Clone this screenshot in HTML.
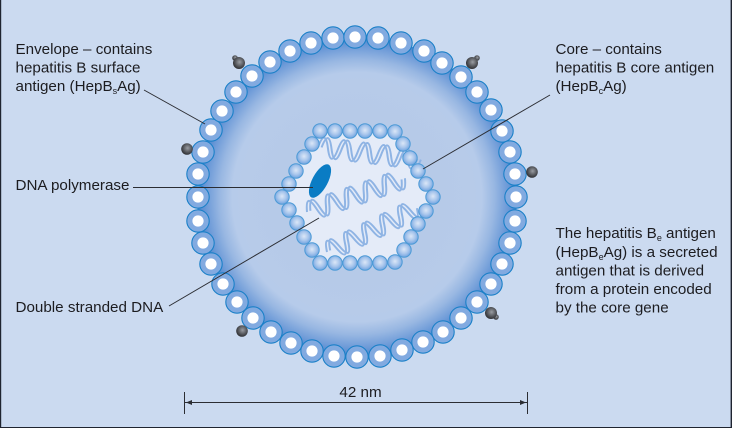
<!DOCTYPE html>
<html><head><meta charset="utf-8"><style>
html,body{margin:0;padding:0;background:#cbdaf0}
svg{display:block}
text{font-family:"Liberation Sans",sans-serif;font-size:15.2px;fill:#1c1c20}
.s{font-size:9px}
</style></head><body>
<svg width="732" height="428" viewBox="0 0 732 428" xmlns="http://www.w3.org/2000/svg">
<defs>
<radialGradient id="halo" gradientUnits="userSpaceOnUse" cx="357" cy="197" r="160">
<stop offset="0" stop-color="#b4c8e7"/><stop offset=".72" stop-color="#b7cbe9"/><stop offset=".78" stop-color="#b6cbea"/><stop offset=".86" stop-color="#98b7e2"/><stop offset=".94" stop-color="#6e9bd8"/><stop offset="1" stop-color="#4a84cc"/>
</radialGradient>
<radialGradient id="bead" cx=".5" cy=".45" r=".55">
<stop offset="0" stop-color="#dbe7f7"/><stop offset=".55" stop-color="#a9c6ec"/><stop offset="1" stop-color="#6fa3e0"/>
</radialGradient>
<radialGradient id="ball" cx=".55" cy=".42" r=".6">
<stop offset="0" stop-color="#9a9da3"/><stop offset=".6" stop-color="#55575c"/><stop offset="1" stop-color="#2c2d31"/>
</radialGradient>
<g id="o"><circle r="11.2" fill="#82aae0" stroke="#1b80c8" stroke-width="1.1"/><circle r="5.6" fill="#fff"/></g>
<circle id="b" r="7.2" fill="url(#bead)" stroke="#4c9ad6" stroke-width="1"/>
<path id="w" fill="none" stroke="#8fb4e4" stroke-width="2" d="M0 0q5 -20 10 0t10 0t10 0t10 0t10 0t10 0t10 0t10 0t10 0t10 0"/>
<g id="hx"><use href="#w"/><use href="#w" x="3.6"/></g>
</defs>

<circle cx="357" cy="197" r="160" fill="url(#halo)"/>
<polygon points="320,131 395,131 433,197 395,263 320,263 282,197" fill="#e4ebf8"/>

<use href="#hx" transform="translate(318 147) rotate(7)"/>
<use href="#hx" transform="translate(307 212) rotate(-19)"/>
<use href="#hx" transform="translate(327 252) rotate(-26)"/>

<ellipse cx="320" cy="181" rx="7.8" ry="18.5" transform="rotate(28 320 181)" fill="#0a7cc4"/>

<g>
<use href="#b" x="320" y="131"/><use href="#b" x="335" y="131"/><use href="#b" x="350" y="131"/><use href="#b" x="365" y="131"/><use href="#b" x="380" y="131"/><use href="#b" x="395" y="132"/>
<use href="#b" x="403" y="144"/><use href="#b" x="410" y="158"/><use href="#b" x="418" y="171"/><use href="#b" x="426" y="184"/><use href="#b" x="433" y="197"/>
<use href="#b" x="426" y="211"/><use href="#b" x="418" y="224"/><use href="#b" x="411" y="237"/><use href="#b" x="404" y="250"/><use href="#b" x="395" y="262"/>
<use href="#b" x="380" y="263"/><use href="#b" x="365" y="263"/><use href="#b" x="350" y="263"/><use href="#b" x="335" y="263"/><use href="#b" x="320" y="263"/>
<use href="#b" x="312" y="250"/><use href="#b" x="304" y="237"/><use href="#b" x="297" y="223"/><use href="#b" x="289" y="210"/><use href="#b" x="282" y="197"/>
<use href="#b" x="289" y="184"/><use href="#b" x="296" y="171"/><use href="#b" x="304" y="157"/><use href="#b" x="312" y="144"/>
</g>

<g>
<use href="#o" x="333" y="38"/><use href="#o" x="355" y="37"/><use href="#o" x="378" y="38"/><use href="#o" x="401" y="43"/><use href="#o" x="424" y="51"/><use href="#o" x="442" y="63"/><use href="#o" x="461" y="77"/><use href="#o" x="477" y="92"/><use href="#o" x="491" y="110"/><use href="#o" x="502" y="131"/><use href="#o" x="510" y="152"/><use href="#o" x="515" y="174"/><use href="#o" x="516" y="197"/><use href="#o" x="515" y="221"/><use href="#o" x="510" y="243"/><use href="#o" x="502" y="264"/><use href="#o" x="491" y="284"/><use href="#o" x="477" y="302"/><use href="#o" x="461" y="318"/><use href="#o" x="443" y="332"/><use href="#o" x="423" y="342"/><use href="#o" x="402" y="350"/><use href="#o" x="380" y="356"/><use href="#o" x="357" y="357"/><use href="#o" x="334" y="356"/><use href="#o" x="312" y="351"/><use href="#o" x="291" y="343"/><use href="#o" x="271" y="332"/><use href="#o" x="253" y="318"/><use href="#o" x="237" y="302"/><use href="#o" x="223" y="284"/><use href="#o" x="211" y="264"/><use href="#o" x="203" y="243"/><use href="#o" x="198" y="221"/><use href="#o" x="198" y="197"/><use href="#o" x="198" y="174"/><use href="#o" x="203" y="152"/><use href="#o" x="211" y="130"/><use href="#o" x="222" y="111"/><use href="#o" x="236" y="92"/><use href="#o" x="252" y="76"/><use href="#o" x="270" y="62"/><use href="#o" x="290" y="51"/><use href="#o" x="311" y="43"/>
</g>

<g fill="url(#ball)">
<circle cx="235" cy="58" r="2.8"/><circle cx="239" cy="63" r="6"/>
<circle cx="187" cy="149" r="5.8"/>
<circle cx="477" cy="58" r="2.8"/><circle cx="472" cy="63" r="6"/>
<circle cx="532" cy="172" r="5.8"/>
<circle cx="242" cy="331" r="5.8"/>
<circle cx="496" cy="317" r="2.8"/><circle cx="491" cy="313" r="6"/>
</g>

<g stroke="#2b2d33" stroke-width="1" fill="none">
<line x1="144" y1="90" x2="205" y2="124"/>
<line x1="550" y1="95" x2="423" y2="169"/>
<line x1="133" y1="187.5" x2="313" y2="187.5"/>
<line x1="169" y1="306" x2="319" y2="218"/>
<line x1="185" y1="402.5" x2="527" y2="402.5"/>
<line x1="184.5" y1="392" x2="184.5" y2="414"/>
<line x1="527.5" y1="392" x2="527.5" y2="414"/>
</g>
<polygon points="186,402.5 192,400 192,405" fill="#2b2d33"/>
<polygon points="526,402.5 520,400 520,405" fill="#2b2d33"/>

<text x="15.5" y="54">Envelope – contains</text>
<text x="15.5" y="72.5">hepatitis B surface</text>
<text x="15.5" y="91">antigen (HepB<tspan class="s" dy="3">s</tspan><tspan dy="-3">Ag)</tspan></text>
<text x="15.5" y="190">DNA polymerase</text>
<text x="15.5" y="312">Double stranded DNA</text>
<text x="555.5" y="54">Core – contains</text>
<text x="555.5" y="72.5">hepatitis B core antigen</text>
<text x="555.5" y="91">(HepB<tspan class="s" dy="3">c</tspan><tspan dy="-3">Ag)</tspan></text>
<text x="555.5" y="238">The hepatitis B<tspan class="s" dy="3">e</tspan><tspan dy="-3"> antigen</tspan></text>
<text x="555.5" y="257">(HepB<tspan class="s" dy="3">e</tspan><tspan dy="-3">Ag) is a secreted</tspan></text>
<text x="555.5" y="275.5">antigen that is derived</text>
<text x="555.5" y="294">from a protein encoded</text>
<text x="555.5" y="312.5">by the core gene</text>
<text x="360.5" y="397" text-anchor="middle">42 nm</text>

<rect x="0" y="0" width="1.2" height="428" fill="#1f2430"/>
<rect x="730.6" y="0" width="1.4" height="428" fill="#1f2430"/>
<rect x="0" y="427" width="732" height="1" fill="#1f2430"/>
</svg>
</body></html>
